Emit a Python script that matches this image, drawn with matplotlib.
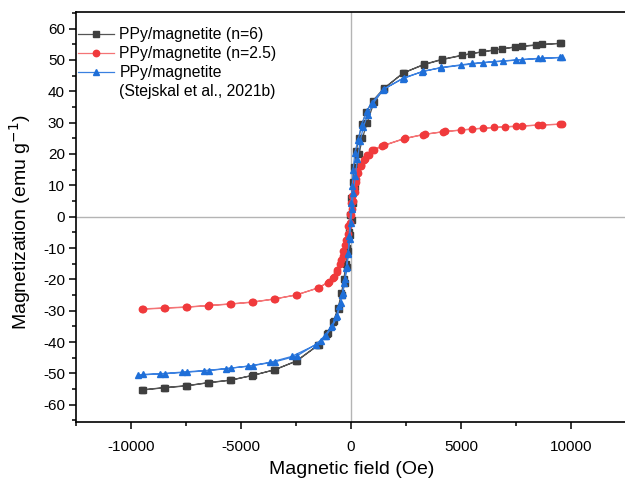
import matplotlib.pyplot as plt
from matplotlib.ticker import MultipleLocator

plt.rcParams['font.family'] = ['Liberation Sans', 'DejaVu Sans']
plt.rcParams['axes.unicode_minus'] = False

# PPy/magnetite (n=6): descending branch then ascending branch
h_n6 = [9550, 8680, 7770, 6860, 5950, 5050, 4140, 3320, 2400,
        1500, 1000, 700, 500, 350, 250, 150, 80, 20,
        -40, -100, -160, -230, -320, -430, -580, -800, -1100,
        -1500, -2500, -3500, -4500, -5500, -6500, -7500, -8500, -9500,
        -9450, -8450, -7450, -6450, -5450, -4450, -3450, -2450,
        -1450, -1050, -760, -560, -410, -290, -190, -110, -40,
        30, 100, 170, 260, 370, 520, 740, 1050, 1500,
        2360, 3320, 4140, 5450, 6500, 7450, 8400, 9500]
m_n6 = [55.3, 55.0, 54.4, 53.6, 52.6, 51.5, 50.2, 48.6, 45.9,
        41.0, 37.0, 33.5, 29.5, 25.0, 21.0, 16.0, 11.0, 6.0,
        0.5, -5.0, -10.0, -15.0, -20.0, -24.5, -29.0, -33.5, -37.5,
        -41.0, -46.1, -48.9, -50.7, -52.2, -53.0, -54.0, -54.6, -55.3,
        -55.2, -54.5, -53.9, -52.9, -52.1, -50.6, -48.8, -46.0,
        -40.8, -37.0, -33.2, -29.3, -25.0, -21.0, -16.0, -11.0, -6.0,
        -1.0, 4.5, 9.5, 15.0, 20.0, 25.0, 30.0, 36.5, 40.8,
        45.8, 48.5, 50.1, 52.0, 53.1, 54.1, 54.7, 55.3]

# PPy/magnetite (n=2.5)
h_n25 = [9600, 8700, 7800, 7000, 6000, 5000, 4200, 3300, 2400,
         1420, 970, 740, 590, 440, 290, 210, 140, 60,
         15, -30, -120, -240, -360, -470, -620, -770, -1000,
         -1450, -2500, -3500, -4500, -5500, -6500, -7500, -8500, -9500,
         -9450, -8450, -7450, -6450, -5450, -4450, -3450, -2450,
         -1500, -1050, -820, -650, -500, -380, -260, -150, -60,
         0, 40, 100, 170, 250, 340, 480, 640, 820, 1050, 1500,
         2450, 3350, 4300, 5500, 6500, 7500, 8500, 9500]
m_n25 = [29.5, 29.3, 28.9, 28.6, 28.2, 27.6, 27.1, 26.2, 24.8,
         22.5, 21.4, 19.8, 18.2, 16.6, 14.5, 11.9, 9.3, 6.5,
         4.4, 0.7, -3.0, -7.3, -11.1, -13.7, -16.9, -19.1, -20.7,
         -22.6, -25.0, -26.3, -27.3, -27.9, -28.4, -28.9, -29.2, -29.5,
         -29.4, -29.1, -28.8, -28.3, -27.8, -27.2, -26.2, -24.9,
         -22.8, -21.0, -19.6, -17.8, -15.2, -12.6, -9.0, -5.5, -2.0,
         0.5, 2.5, 5.0, 8.0, 11.0, 13.8, 16.3, 18.3, 19.8, 21.2, 22.8,
         25.0, 26.3, 27.2, 28.0, 28.5, 28.9, 29.2, 29.5]

# PPy/magnetite (Stejskal et al., 2021b)
h_ref = [9600, 8700, 7800, 6900, 6000, 5000, 4100, 3300, 2400,
         1490, 950, 720, 490, 330, 180, 100, 60, 15,
         -80, -120, -180, -270, -360, -470, -620, -850, -1150,
         -1380, -2450, -3450, -4450, -5450, -6450, -7450, -8450, -9450,
         -9680, -8700, -7700, -6700, -5700, -4700, -3700, -2700,
         -1600, -1200, -900, -680, -520, -400, -300, -210, -130, -60,
         0, 50, 110, 200, 300, 420, 560, 760, 1000, 1450,
         2350, 3250, 4100, 5500, 6500, 7500, 8500, 9500]
m_ref = [50.8, 50.5, 50.1, 49.6, 49.1, 48.3, 47.5, 46.4, 44.3,
         40.7, 36.4, 33.7, 29.4, 24.6, 20.4, 15.0, 9.8, 4.5,
         -6.2, -11.5, -15.9, -20.0, -24.3, -27.5, -31.8, -35.0, -38.2,
         -39.8, -44.4, -46.3, -47.5, -48.3, -49.1, -49.6, -50.1, -50.3,
         -50.6, -50.1, -49.6, -49.1, -48.5, -47.7, -46.5, -44.6,
         -40.9, -38.0, -35.3, -32.0, -28.5, -25.0, -21.0, -16.5, -12.0, -7.0,
         -2.0, 2.5, 7.5, 13.0, 18.5, 24.0, 28.5, 32.5, 36.0, 40.5,
         44.0, 46.3, 47.6, 48.9, 49.5, 50.0, 50.5, 50.8]

fig = plt.figure(figsize=(6.25, 4.78), dpi=100)
ax = fig.add_axes([76 / 625, 56 / 478, 552 / 625, 410 / 478])

ax.axhline(0, color='#b4b4b4', lw=1.0, zorder=0)
ax.axvline(0, color='#b4b4b4', lw=1.0, zorder=0)

# lines a bit lighter than the markers, like the original
ax.plot(h_n6, m_n6, color='#555555', lw=0.9, marker='s', ms=4.3,
        mfc='#3f3f3f', mec='#3f3f3f', label='PPy/magnetite (n=6)')
ax.plot(h_n25, m_n25, color='#f47476', lw=0.9, marker='o', ms=4.6,
        mfc='#f03a3c', mec='#f03a3c', label='PPy/magnetite (n=2.5)')
ax.plot(h_ref, m_ref, color='#3a80e0', lw=0.9, marker='^', ms=4.8,
        mfc='#1f6fd8', mec='#1f6fd8', label='PPy/magnetite')
# second line of the third legend entry, handle sits on the first line
ax.plot([], [], ' ', label='(Stejskal et al., 2021b)')

ax.set_xlim(-12500, 12600)
ax.set_ylim(-65.5, 65.3)
ax.xaxis.set_major_locator(MultipleLocator(5000))
ax.xaxis.set_minor_locator(MultipleLocator(2500))
ax.yaxis.set_major_locator(MultipleLocator(10))
ax.yaxis.set_minor_locator(MultipleLocator(5))
ax.tick_params(which='both', direction='out', top=False, right=False,
               width=1.1, labelsize=11, color='black')
ax.tick_params(which='major', length=5, pad=3)
ax.tick_params(which='minor', length=3)
ax.tick_params(axis='x', pad=8)
for side in ['left', 'bottom', 'top']:
    ax.spines[side].set_linewidth(1.2)
ax.spines['right'].set_visible(False)

ax.set_xlabel('Magnetic field (Oe)', fontsize=14, labelpad=5)
ax.set_ylabel('Magnetization (emu g$^{-1}$)', fontsize=14)
ax.yaxis.set_label_coords(-0.077, 0.487)

ax.legend(loc='upper left', bbox_to_anchor=(-0.008, 0.978),
          frameon=False, fontsize=11.3, handlelength=2.3,
          handletextpad=0.35, labelspacing=0.25, borderaxespad=0)

fig.savefig('out.png', dpi=100)
